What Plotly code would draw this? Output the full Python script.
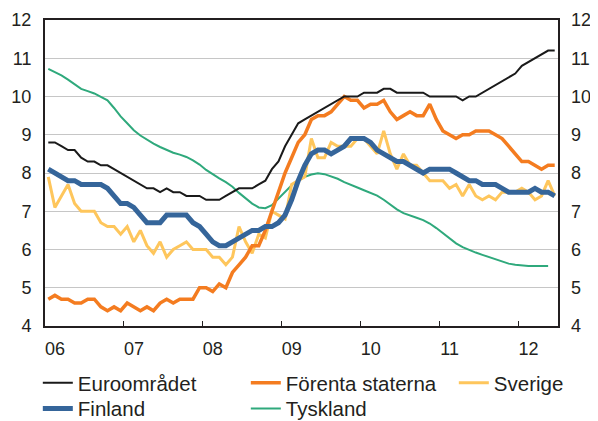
import plotly.graph_objects as go

# Monthly data, Jan 2006 - Jun 2012
start_year = 2006
euro = [8.8,8.8,8.7,8.6,8.6,8.4,8.3,8.3,8.2,8.2,8.1,8.0,
        7.9,7.8,7.7,7.6,7.6,7.5,7.6,7.5,7.5,7.4,7.4,7.4,
        7.3,7.3,7.3,7.4,7.5,7.6,7.6,7.6,7.7,7.8,8.1,8.3,
        8.7,9.0,9.3,9.4,9.5,9.6,9.7,9.8,9.9,10.0,10.0,10.0,
        10.1,10.1,10.1,10.2,10.2,10.1,10.1,10.1,10.1,10.1,10.0,10.0,
        10.0,10.0,10.0,9.9,10.0,10.0,10.1,10.2,10.3,10.4,10.5,10.6,
        10.8,10.9,11.0,11.1,11.2,11.2]
usa = [4.7,4.8,4.7,4.7,4.6,4.6,4.7,4.7,4.5,4.4,4.5,4.4,
       4.6,4.5,4.4,4.5,4.4,4.6,4.7,4.6,4.7,4.7,4.7,5.0,
       5.0,4.9,5.1,5.0,5.4,5.6,5.8,6.1,6.1,6.5,7.0,7.5,
       8.0,8.4,8.8,9.0,9.4,9.5,9.5,9.6,9.8,10.0,9.9,9.9,
       9.7,9.8,9.8,9.9,9.6,9.4,9.5,9.6,9.5,9.5,9.8,9.4,
       9.1,9.0,8.9,9.0,9.0,9.1,9.1,9.1,9.0,8.9,8.7,8.5,
       8.3,8.3,8.2,8.1,8.2,8.2]
sverige = [7.9,7.1,7.4,7.7,7.2,7.0,7.0,7.0,6.7,6.6,6.6,6.4,
           6.6,6.2,6.5,6.1,5.9,6.2,5.8,6.0,6.1,6.2,6.0,6.0,
           6.0,5.8,5.8,5.6,5.8,6.6,6.2,5.9,6.4,6.3,7.0,6.9,
           6.8,7.7,7.8,7.9,8.9,8.4,8.4,8.8,8.7,8.7,8.7,8.9,
           8.9,8.7,8.5,9.1,8.5,8.1,8.5,8.2,8.2,8.0,7.8,7.8,
           7.8,7.6,7.7,7.4,7.7,7.4,7.3,7.4,7.3,7.5,7.5,7.5,
           7.6,7.5,7.3,7.4,7.8,7.4]
finland = [8.1,8.0,7.9,7.8,7.8,7.7,7.7,7.7,7.7,7.6,7.4,7.2,
           7.2,7.1,6.9,6.7,6.7,6.7,6.9,6.9,6.9,6.9,6.7,6.6,
           6.4,6.2,6.1,6.1,6.2,6.3,6.4,6.5,6.5,6.6,6.6,6.7,
           6.9,7.3,7.8,8.2,8.5,8.6,8.6,8.5,8.6,8.7,8.9,8.9,
           8.9,8.8,8.6,8.5,8.4,8.3,8.3,8.2,8.1,8.0,8.1,8.1,
           8.1,8.1,8.0,7.9,7.8,7.8,7.7,7.7,7.7,7.6,7.5,7.5,
           7.5,7.5,7.6,7.5,7.5,7.4]
tyskland = [10.72,10.64,10.55,10.44,10.32,10.2,10.14,10.08,9.99,9.9,9.7,9.48,
            9.3,9.12,8.98,8.87,8.77,8.68,8.6,8.53,8.48,8.42,8.33,8.22,
            8.08,7.96,7.86,7.76,7.64,7.48,7.33,7.2,7.1,7.08,7.16,7.33,
            7.52,7.68,7.8,7.9,7.96,7.99,7.97,7.92,7.85,7.76,7.68,7.62,
            7.55,7.48,7.41,7.3,7.17,7.05,6.95,6.88,6.83,6.77,6.68,6.56,
            6.42,6.28,6.16,6.06,5.98,5.92,5.86,5.8,5.74,5.68,5.63,5.6,
            5.58,5.57,5.57,5.57,5.57]

year_ticks = [2006, 2007, 2008, 2009, 2010, 2011, 2012]
year_labels = ["06", "07", "08", "09", "10", "11", "12"]
y_ticks = [4, 5, 6, 7, 8, 9, 10, 11, 12]

def xs(n):
    return [start_year + (i + 0.5) / 12 for i in range(n)]

FONT = "Liberation Sans, Arial, sans-serif"
fig = go.Figure()

fig.add_trace(go.Scatter(x=xs(len(tyskland)), y=tyskland, name="Tyskland", mode="lines",
                         line=dict(color="#2fa97c", width=2), legend="legend2", legendrank=5))
fig.add_trace(go.Scatter(x=xs(len(sverige)), y=sverige, name="Sverige", mode="lines",
                         line=dict(color="#fec65c", width=3), legend="legend", legendrank=3))
fig.add_trace(go.Scatter(x=xs(len(usa)), y=usa, name="Förenta staterna", mode="lines",
                         line=dict(color="#f47c20", width=3.5), legend="legend", legendrank=2,
                         legendwidth=163))
fig.add_trace(go.Scatter(x=xs(len(euro)), y=euro, name="Euroområdet", mode="lines",
                         line=dict(color="#1a1a1a", width=2), legend="legend", legendrank=1,
                         legendwidth=163))
fig.add_trace(go.Scatter(x=xs(len(finland)), y=finland, name="Finland", mode="lines",
                         line=dict(color="#35659a", width=5), legend="legend2", legendrank=4,
                         legendwidth=163))
# invisible trace to carry the right-hand axis
fig.add_trace(go.Scatter(x=xs(len(euro)), y=euro, yaxis="y2", mode="lines",
                         line=dict(width=0), opacity=0, showlegend=False, hoverinfo="skip"))

# page body adds an 8px offset, so the figure is 8px smaller and margins shifted
fig.update_layout(
    width=590, height=413,
    margin=dict(l=37, r=40, t=12, b=95, autoexpand=False),
    paper_bgcolor="white", plot_bgcolor="white",
    font=dict(family=FONT, size=18, color="#231f20"),
    xaxis=dict(range=[2006, 2012.5], tickvals=year_ticks, ticktext=year_labels,
               ticks="inside", ticklen=5, tickcolor="#231f20", tickwidth=1,
               ticklabelshift=10, ticklabelstandoff=5,
               showline=True, linecolor="#231f20", linewidth=2, mirror=True,
               showgrid=False, zeroline=False, tickfont=dict(size=18)),
    yaxis=dict(range=[4, 12], tickvals=y_ticks, showgrid=True, gridcolor="#c6c6c6",
               gridwidth=1, showline=True, linecolor="#231f20", linewidth=2, mirror=True,
               zeroline=False, ticks="", ticklabelstandoff=8, tickfont=dict(size=18)),
    yaxis2=dict(range=[4, 12], tickvals=y_ticks, overlaying="y", side="right",
                showgrid=False, zeroline=False, showline=False, ticks="",
                ticklabelstandoff=12, tickfont=dict(size=18)),
    legend=dict(orientation="h", x=-0.014, xanchor="left", y=-0.186, yanchor="middle",
                font=dict(size=20.5, family=FONT), bgcolor="rgba(0,0,0,0)",
                traceorder="normal", itemwidth=30),
    legend2=dict(orientation="h", x=-0.014, xanchor="left", y=-0.27, yanchor="middle",
                 font=dict(size=20.5, family=FONT), bgcolor="rgba(0,0,0,0)",
                 traceorder="normal", itemwidth=30),
    showlegend=True,
)

fig.write_html("out.html")
